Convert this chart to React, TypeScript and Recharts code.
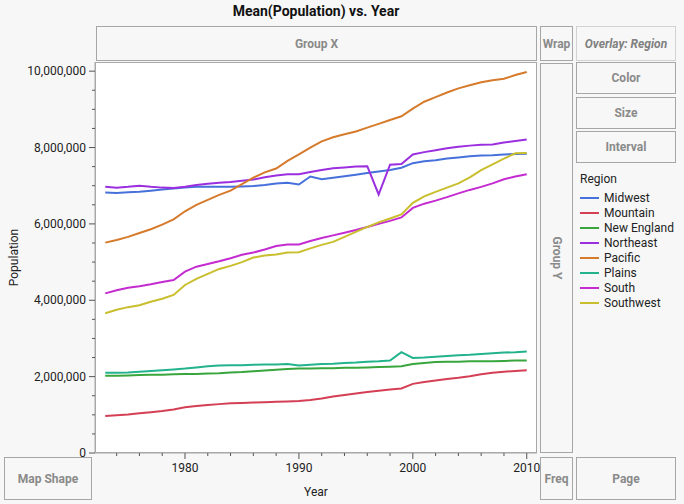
import React from 'react';
import { LineChart, Line, XAxis, YAxis } from 'recharts';

const years = [
  1973, 1974, 1975, 1976, 1977, 1978, 1979, 1980, 1981, 1982, 1983, 1984, 1985,
  1986, 1987, 1988, 1989, 1990, 1991, 1992, 1993, 1994, 1995, 1996, 1997, 1998,
  1999, 2000, 2001, 2002, 2003, 2004, 2005, 2006, 2007, 2008, 2009, 2010,
];

// values in millions
const midwest = [
  6.82, 6.81, 6.83, 6.84, 6.87, 6.9, 6.93, 6.95, 6.97, 6.97, 6.97, 6.97, 6.98,
  6.99, 7.02, 7.06, 7.08, 7.03, 7.24, 7.17, 7.21, 7.25, 7.29, 7.33, 7.37, 7.41,
  7.47, 7.59, 7.64, 7.67, 7.71, 7.74, 7.77, 7.79, 7.8, 7.82, 7.83, 7.84,
];
const mountain = [
  0.97, 0.99, 1.01, 1.04, 1.07, 1.1, 1.14, 1.2, 1.23, 1.26, 1.28, 1.3, 1.31,
  1.32, 1.33, 1.34, 1.35, 1.36, 1.39, 1.43, 1.48, 1.52, 1.56, 1.6, 1.63, 1.66,
  1.69, 1.81, 1.86, 1.9, 1.94, 1.97, 2.01, 2.06, 2.1, 2.13, 2.15, 2.17,
];
const newEngland = [
  2.02, 2.02, 2.03, 2.04, 2.05, 2.05, 2.06, 2.07, 2.07, 2.08, 2.09, 2.11, 2.12,
  2.14, 2.16, 2.18, 2.2, 2.21, 2.21, 2.22, 2.22, 2.23, 2.23, 2.24, 2.25, 2.26,
  2.27, 2.33, 2.36, 2.38, 2.39, 2.39, 2.4, 2.4, 2.4, 2.41, 2.42, 2.42,
];
const northeast = [
  6.97, 6.95, 6.97, 7.0, 6.97, 6.95, 6.94, 6.97, 7.02, 7.05, 7.08, 7.1, 7.13,
  7.16, 7.22, 7.27, 7.3, 7.3, 7.36, 7.41, 7.46, 7.48, 7.5, 7.51, 6.77, 7.55,
  7.57, 7.82, 7.88, 7.93, 7.98, 8.02, 8.05, 8.07, 8.08, 8.13, 8.17, 8.21,
];
const pacific = [
  5.51, 5.58, 5.66, 5.76, 5.86, 5.98, 6.12, 6.33, 6.5, 6.63, 6.76, 6.87, 7.04,
  7.21, 7.35, 7.45, 7.65, 7.82, 8.0, 8.16, 8.27, 8.35, 8.42, 8.52, 8.62, 8.72,
  8.82, 9.02, 9.2, 9.32, 9.44, 9.55, 9.63, 9.71, 9.76, 9.8, 9.9, 9.98,
];
const plains = [
  2.1, 2.1, 2.11, 2.13, 2.15, 2.17, 2.19, 2.21, 2.24, 2.27, 2.29, 2.3, 2.3,
  2.31, 2.32, 2.32, 2.33, 2.29, 2.31, 2.33, 2.34, 2.36, 2.37, 2.39, 2.4, 2.42,
  2.64, 2.49, 2.5, 2.52, 2.54, 2.56, 2.57, 2.59, 2.61, 2.63, 2.64, 2.66,
];
const south = [
  4.18, 4.26, 4.33, 4.37, 4.42, 4.48, 4.53, 4.75, 4.88, 4.95, 5.02, 5.1, 5.19,
  5.25, 5.33, 5.42, 5.46, 5.46, 5.55, 5.63, 5.7, 5.77, 5.84, 5.92, 6.0, 6.08,
  6.17, 6.42, 6.53, 6.61, 6.7, 6.8, 6.89, 6.97, 7.06, 7.17, 7.24, 7.3,
];
const southwest = [
  3.66, 3.75, 3.82, 3.87, 3.96, 4.04, 4.14, 4.4, 4.56, 4.69, 4.82, 4.9, 5.0,
  5.12, 5.17, 5.2, 5.25, 5.26, 5.36, 5.45, 5.53, 5.66, 5.79, 5.92, 6.04, 6.14,
  6.25, 6.55, 6.72, 6.84, 6.95, 7.06, 7.22, 7.41, 7.56, 7.71, 7.85, 7.86,
];

const xTicks = [1974, 1976, 1978, 1980, 1982, 1984, 1986, 1988, 1990, 1992, 1994, 1996, 1998, 2000, 2002, 2004, 2006, 2008, 2010];
const xLabels = [1980, 1990, 2000, 2010];
const yTicks = [
  0, 500000, 1000000, 1500000, 2000000, 2500000, 3000000, 3500000, 4000000,
  4500000, 5000000, 5500000, 6000000, 6500000, 7000000, 7500000, 8000000,
  8500000, 9000000, 9500000, 10000000,
];
const yLabels = [0, 2000000, 4000000, 6000000, 8000000, 10000000];

const series = [
  { name: 'Midwest', values: midwest, color: '#4671DB' },
  { name: 'Mountain', values: mountain, color: '#D43F55' },
  { name: 'New England', values: newEngland, color: '#38A63D' },
  { name: 'Northeast', values: northeast, color: '#9B2FE0' },
  { name: 'Pacific', values: pacific, color: '#D67A2C' },
  { name: 'Plains', values: plains, color: '#22B38C' },
  { name: 'South', values: south, color: '#C42BD0' },
  { name: 'Southwest', values: southwest, color: '#C9BE2E' },
];

const data = years.map((year, i) => {
  const row: Record<string, number> = { year };
  series.forEach((s) => {
    row[s.name] = s.values[i] * 1000000;
  });
  return row;
});

const FONT = 'Roboto, "Noto Sans", Arial, sans-serif';
const BG = '#F7F7F7';

const XTick = (props: any) => {
  const { x, y, payload } = props;
  const major = xLabels.includes(payload.value);
  return (
    <g>
      <line x1={x} x2={x} y1={y} y2={y + (major ? 6 : 3)} stroke="#555" />
      {major && (
        <text x={x} y={y + 19} textAnchor="middle" fontSize={12} fill="#222" fontFamily={FONT}>
          {payload.value}
        </text>
      )}
    </g>
  );
};

const YTick = (props: any) => {
  const { x, y, payload } = props;
  const major = yLabels.includes(payload.value);
  return (
    <g>
      <line x1={x - (major ? 6 : 3)} x2={x} y1={y} y2={y} stroke="#555" />
      {major && (
        <text x={x - 9} y={y + 4} textAnchor="end" fontSize={12} fill="#222" fontFamily={FONT}>
          {payload.value.toLocaleString('en-US')}
        </text>
      )}
    </g>
  );
};

const Box = ({ left, top, width, height, label, italic, light, vertical }: any) => (
  <div
    style={{
      position: 'absolute',
      left,
      top,
      width,
      height,
      boxSizing: 'border-box',
      border: `1.5px solid ${light ? '#D2D2D2' : '#A6A6A6'}`,
      display: 'flex',
      alignItems: 'center',
      justifyContent: 'center',
      color: light ? '#808080' : '#8A8A8A',
      fontFamily: FONT,
      fontSize: 12,
      fontWeight: 'bold',
      fontStyle: italic ? 'italic' : 'normal',
      whiteSpace: 'nowrap',
    }}
  >
    <span style={vertical ? { transform: 'rotate(90deg)' } : undefined}>{label}</span>
  </div>
);

export default function App() {
  return (
    <div style={{ position: 'absolute', left: 0, top: 0, width: 684, height: 504, background: BG, overflow: 'hidden' }}>
      <div
        style={{
          position: 'absolute',
          left: 0,
          top: 3,
          width: 632,
          textAlign: 'center',
          fontFamily: FONT,
          fontSize: 14,
          fontWeight: 'bold',
          color: '#111',
        }}
      >
        Mean(Population) vs. Year
      </div>

      <Box left={96} top={26} width={441} height={35} label="Group X" />
      <Box left={540} top={26} width={33} height={35} label="Wrap" />
      <Box left={576} top={26} width={100} height={35} label="Overlay: Region" italic light />
      <Box left={576} top={62} width={100} height={32} label="Color" />
      <Box left={576} top={97} width={100} height={32} label="Size" />
      <Box left={576} top={131} width={100} height={32} label="Interval" />
      <Box left={540} top={63} width={33} height={390} label="Group Y" vertical />
      <Box left={4} top={457} width={88} height={43} label="Map Shape" />
      <Box left={540} top={457} width={33} height={43} label="Freq" />
      <Box left={576} top={457} width={100} height={43} label="Page" />

      <div
        style={{
          position: 'absolute',
          left: 95,
          top: 62,
          width: 442,
          height: 391,
          background: '#FFFFFF',
          boxSizing: 'border-box',
          border: '1px solid #A8A8A8',
        }}
      />

      <div style={{ position: 'absolute', left: 0, top: 0 }}>
        <LineChart width={684} height={504} data={data} margin={{ top: 62, right: 147, bottom: 0, left: 0 }}>
          <XAxis
            type="number"
            dataKey="year"
            domain={[1972.1, 2010.9]}
            ticks={xTicks}
            interval={0}
            tick={<XTick />}
            tickLine={false}
            tickSize={0}
            tickMargin={0}
            axisLine={{ stroke: '#A8A8A8' }}
            height={51}
            allowDataOverflow
            label={{ value: 'Year', position: 'insideBottom', offset: 8, fontSize: 12, fill: '#222', fontFamily: FONT }}
          />
          <YAxis
            type="number"
            domain={[0, 10240000]}
            ticks={yTicks}
            tick={<YTick />}
            tickLine={false}
            tickSize={0}
            tickMargin={0}
            axisLine={{ stroke: '#A8A8A8' }}
            width={95}
            allowDataOverflow
            interval={0}
            label={{ value: 'Population', angle: -90, position: 'insideLeft', offset: 14, fontSize: 12, fill: '#222', fontFamily: FONT, style: { textAnchor: 'middle' } }}
          />
          {series.map((s) => (
            <Line
              key={s.name}
              type="linear"
              dataKey={s.name}
              stroke={s.color}
              strokeWidth={2}
              dot={false}
              activeDot={false}
              isAnimationActive={false}
            />
          ))}
        </LineChart>
      </div>

      <div style={{ position: 'absolute', left: 580, top: 172, fontFamily: FONT, fontSize: 12, color: '#222' }}>
        <div style={{ marginBottom: 2, height: 16 }}>Region</div>
        {series.map((s) => (
          <div key={s.name} style={{ display: 'flex', alignItems: 'center', height: 15 }}>
            <span style={{ display: 'inline-block', width: 19, height: 2, background: s.color, marginRight: 5 }} />
            <span>{s.name}</span>
          </div>
        ))}
      </div>
    </div>
  );
}
